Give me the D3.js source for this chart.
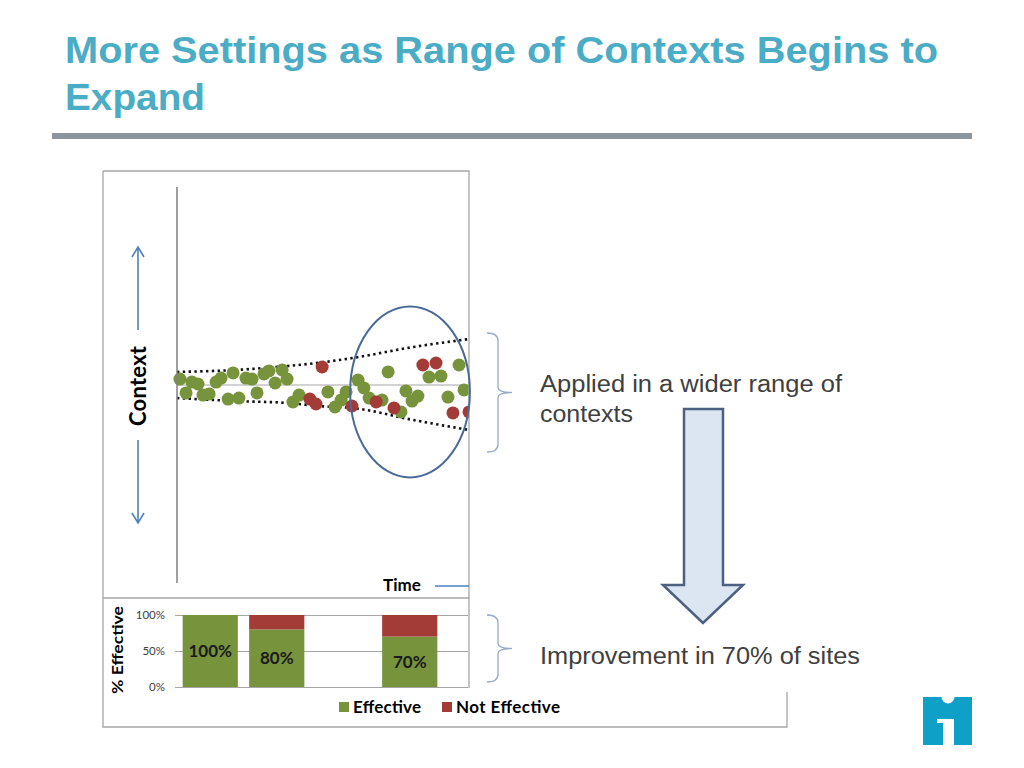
<!DOCTYPE html>
<html>
<head>
<meta charset="utf-8">
<script src="https://cdn.jsdelivr.net/npm/d3@7"></script>
<style>
body { margin: 0; background: #fff; }
</style>
</head>
<body>
<script>
// scatter: time 0..100, context -100..100
const effectiveTime = [1.0, 3.1, 5.1, 7.2, 8.9, 11.0, 13.4, 15.1, 17.5, 19.2, 21.2, 23.6, 25.7, 27.4, 29.8, 31.5, 33.6, 36.0, 37.7, 39.7, 41.8, 51.7, 54.1, 56.2, 57.9, 62.0, 64.0, 65.8, 70.2, 72.3, 76.7, 78.4, 80.5, 82.5, 86.3, 90.4, 92.8, 96.6, 98.3];
const effectiveContext = [3.0, -4.0, 1.5, 0.5, -5.1, -4.5, 1.5, 3.5, -7.1, 6.1, -6.6, 3.5, 3.0, -4.0, 5.6, 7.1, 1.0, 7.6, 3.0, -8.6, -5.1, -3.5, -11.1, -7.6, -3.5, 2.5, -1.5, -6.6, -7.6, 6.6, -13.6, -3.0, -8.1, -5.6, 4.0, 4.5, -6.1, 10.1, -2.5];
const notEffectiveTime = [45.5, 47.6, 49.7, 59.9, 68.2, 74.3, 84.2, 88.7, 94.5, 100];
const notEffectiveContext = [-7.1, -9.6, 9.1, -10.6, -8.6, -11.6, 10.1, 11.1, -14.1, -13.6];

// dotted range envelope
const bandTime = [0, 20, 38, 50, 60, 81, 100];
const upperBand = [6.6, 7.6, 9.6, 11.5, 13.6, 19.2, 23.2];
const lowerBand = [-6.6, -8.1, -9.1, -10.8, -11.6, -17.7, -22.7];

// highlighted region (time, context, half width, half height)
const highlight = [79.8, -3.5, 20.5, 43.2];

// bar chart
const siteSlots = ["s1", "s2", "s3", "s4"];
const effectiveShare = [1.0, 0.8, 0, 0.7];
const notEffectiveShare = [0, 0.2, 0, 0.3];
const shareTicks = [0, 0.5, 1];

const green = "#77933c", red = "#a33b36";
const chartFont = "Lato, 'Open Sans', sans-serif";

const svg = d3.select("body").append("svg")
    .attr("width", 1024)
    .attr("height", 768);

// title
const titleLines = [["More Settings as Range of Contexts Begins to", 63, 873], ["Expand", 110, 140]];
svg.append("g").selectAll("text")
    .data(titleLines)
    .join("text")
    .attr("x", 65).attr("y", d => d[1])
    .attr("textLength", d => d[2])
    .attr("lengthAdjust", "spacingAndGlyphs")
    .attr("font-family", "'Liberation Sans', Arial, sans-serif")
    .attr("font-weight", "bold").attr("font-size", 37)
    .attr("fill", "#4bacc6")
    .text(d => d[0]);

svg.append("rect")
    .attr("x", 52).attr("y", 133)
    .attr("width", 920).attr("height", 6)
    .attr("fill", "#8c969c");

// frames
svg.append("path")
    .attr("d", "M103,171H469V688 M103,171V727H787V692 M103,598H469")
    .attr("fill", "none")
    .attr("stroke", "#a6a6a6")
    .attr("stroke-width", 1.3);

// ---- scatter ----
const x = d3.scaleLinear().domain([0, 100]).range([177, 469]);
const y = d3.scaleLinear().domain([-100, 100]).range([583, 187]);

svg.append("clipPath").attr("id", "plotclip")
    .append("rect")
    .attr("x", 100).attr("y", 172)
    .attr("width", 368.5).attr("height", 420);

const plot = svg.append("g").attr("clip-path", "url(#plotclip)");

plot.append("line")
    .attr("x1", x(0)).attr("x2", x(100))
    .attr("y1", y(0)).attr("y2", y(0))
    .attr("stroke", "#a6a6a6").attr("stroke-width", 1.2);

svg.append("line")
    .attr("x1", x(0)).attr("x2", x(0))
    .attr("y1", y(100)).attr("y2", y(-100))
    .attr("stroke", "#808080").attr("stroke-width", 1.5);

const envelope = d3.line()
    .x((d, i) => x(bandTime[i]))
    .y(d => y(d))
    .curve(d3.curveMonotoneX);

[upperBand, lowerBand].forEach(band => {
    plot.append("path")
        .datum(band)
        .attr("d", envelope)
        .attr("fill", "none")
        .attr("stroke", "#111")
        .attr("stroke-width", 2.6)
        .attr("stroke-dasharray", "2.4,3.4");
});

const effectiveDots = effectiveTime.map((t, i) => [t, effectiveContext[i]]);
const notEffectiveDots = notEffectiveTime.map((t, i) => [t, notEffectiveContext[i]]);

plot.selectAll(".eff")
    .data(effectiveDots)
    .join("circle")
    .attr("cx", d => x(d[0]))
    .attr("cy", d => y(d[1]))
    .attr("r", 6.5)
    .attr("fill", green);

plot.selectAll(".noteff")
    .data(notEffectiveDots)
    .join("circle")
    .attr("cx", d => x(d[0]))
    .attr("cy", d => y(d[1]))
    .attr("r", 6.5)
    .attr("fill", red);

svg.append("ellipse")
    .attr("cx", x(highlight[0]))
    .attr("cy", y(highlight[1]))
    .attr("rx", x(highlight[2]) - x(0))
    .attr("ry", y(0) - y(highlight[3]))
    .attr("fill", "none")
    .attr("stroke", "#4a6a9a")
    .attr("stroke-width", 2);

// Context label with arrows
const arrowBlue = "#4f81bd";
svg.append("path")
    .attr("d", "M138,249V330 M132,257L138,247L144,257 M138,440V521 M132,513L138,523L144,513")
    .attr("fill", "none")
    .attr("stroke", arrowBlue)
    .attr("stroke-width", 1.6);

svg.append("text")
    .attr("transform", "translate(146,386) rotate(-90)")
    .attr("text-anchor", "middle")
    .attr("textLength", 80)
    .attr("font-family", chartFont)
    .attr("font-weight", "bold")
    .attr("font-size", 22)
    .attr("fill", "#000")
    .text("Context");

svg.append("text")
    .attr("x", 402).attr("y", 591)
    .attr("text-anchor", "middle")
    .attr("font-family", chartFont)
    .attr("font-weight", "bold")
    .attr("font-size", 17)
    .text("Time");

svg.append("line")
    .attr("x1", 435).attr("x2", 469)
    .attr("y1", 586).attr("y2", 586)
    .attr("stroke", arrowBlue).attr("stroke-width", 1.6);

// ---- stacked bars ----
const bx = d3.scaleBand().domain(siteSlots).range([177, 443])
    .paddingInner(0.17).paddingOuter(0.085);
const by = d3.scaleLinear().domain([0, 1]).range([687, 615]);

const yAxis = svg.append("g")
    .attr("transform", "translate(175,0)")
    .call(d3.axisLeft(by).tickValues(shareTicks).tickFormat(d3.format(".0%")).tickSize(-293).tickPadding(10));
yAxis.select(".domain").remove();
yAxis.selectAll(".tick line").attr("stroke", "#a6a6a6");
yAxis.selectAll(".tick text")
    .attr("font-family", chartFont)
    .attr("font-size", 11.5)
    .attr("fill", "#404040");

const rows = siteSlots.map((s, i) => ({ site: s, eff: effectiveShare[i], not: notEffectiveShare[i] }));
const stacked = d3.stack().keys(["eff", "not"])(rows);
const barColors = { eff: green, not: red };

svg.append("g").selectAll("g")
    .data(stacked)
    .join("g")
    .attr("fill", d => barColors[d.key])
    .selectAll("rect")
    .data(d => d)
    .join("rect")
    .attr("x", d => bx(d.data.site))
    .attr("y", d => by(d[1]))
    .attr("width", bx.bandwidth())
    .attr("height", d => by(d[0]) - by(d[1]));

svg.append("g").selectAll("text")
    .data(rows.filter(d => d.eff > 0))
    .join("text")
    .attr("x", d => bx(d.site) + bx.bandwidth() / 2)
    .attr("y", d => by(d.eff / 2) + 6)
    .attr("text-anchor", "middle")
    .attr("font-family", chartFont)
    .attr("font-weight", "bold")
    .attr("font-size", 17)
    .attr("fill", "#1a1a1a")
    .text(d => d3.format(".0%")(d.eff));

svg.append("text")
    .attr("transform", "translate(123,650) rotate(-90)")
    .attr("text-anchor", "middle")
    .attr("font-family", chartFont)
    .attr("font-weight", "bold")
    .attr("font-size", 16)
    .attr("textLength", 88)
    .attr("lengthAdjust", "spacingAndGlyphs")
    .text("% Effective");

// legend
const legend = [["Effective", green, 339, 68], ["Not Effective", red, 442, 104]];
legend.forEach(([label, color, lx, w]) => {
    svg.append("rect")
        .attr("x", lx).attr("y", 702)
        .attr("width", 10).attr("height", 10)
        .attr("fill", color);
    svg.append("text")
        .attr("x", lx + 14).attr("y", 713)
        .attr("textLength", w)
        .attr("font-family", chartFont)
        .attr("font-weight", "bold")
        .attr("font-size", 17)
        .text(label);
});

// ---- annotations on the right ----
const braceColor = "#95a9c9";
function brace(top, bottom) {
    const mid = (top + bottom) / 2;
    return `M487,${top} Q498,${top} 498,${top + 8} V${mid - 5} Q498,${mid} 512,${mid} Q498,${mid} 498,${mid + 5} V${bottom - 8} Q498,${bottom} 487,${bottom}`;
}
svg.append("path").attr("d", brace(333, 452))
    .attr("fill", "none").attr("stroke", braceColor).attr("stroke-width", 1.3);
svg.append("path").attr("d", brace(615, 682))
    .attr("fill", "none").attr("stroke", braceColor).attr("stroke-width", 1.3);

const notes = [["Applied in a wider range of", 392, 302], ["contexts", 422, 93], ["Improvement in 70% of sites", 664, 320]];
svg.append("g").selectAll("text")
    .data(notes)
    .join("text")
    .attr("x", 540).attr("y", d => d[1])
    .attr("textLength", d => d[2])
    .attr("lengthAdjust", "spacingAndGlyphs")
    .attr("font-family", "'Liberation Sans', Arial, sans-serif")
    .attr("font-size", 23)
    .attr("fill", "#404040")
    .text(d => d[0]);

svg.append("path")
    .attr("d", "M684,409H723V585H743L703,623L663,585H684Z")
    .attr("fill", "#dce6f2")
    .attr("stroke", "#4b617f")
    .attr("stroke-width", 2.5)
    .attr("stroke-linejoin", "miter");

// logo
svg.append("path")
    .attr("d", "M923,697H941.5A6.5,6.5 0 0 0 954.5,697H972V745H954V719H937V723H943V745H923Z")
    .attr("fill", "#0fa0c8");
</script>
</body>
</html>
